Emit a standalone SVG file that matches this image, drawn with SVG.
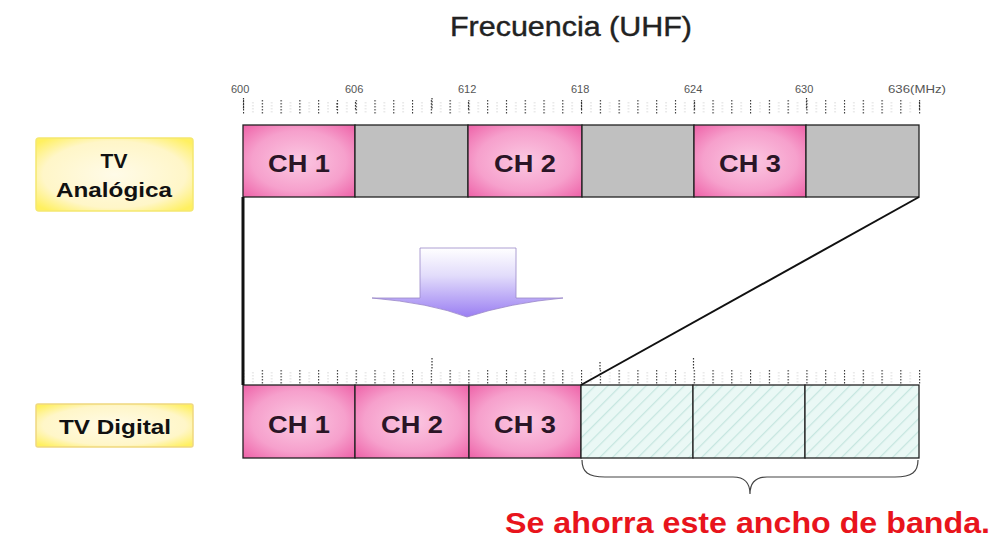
<svg xmlns="http://www.w3.org/2000/svg" width="1003" height="539" viewBox="0 0 1003 539">
<defs>
<radialGradient id="pink" cx="0.5" cy="0.5" r="0.7">
<stop offset="0" stop-color="#fbc8e2"/>
<stop offset="0.6" stop-color="#f6a0cc"/>
<stop offset="1" stop-color="#ee62a8"/>
</radialGradient>
<radialGradient id="yel" cx="0.5" cy="0.5" r="0.65">
<stop offset="0" stop-color="#fffbe8"/>
<stop offset="0.7" stop-color="#fff6c8"/>
<stop offset="1" stop-color="#fff060"/>
</radialGradient>
<linearGradient id="arr" x1="0" y1="0" x2="0" y2="1">
<stop offset="0" stop-color="#ffffff"/>
<stop offset="0.4" stop-color="#e2dcfb"/>
<stop offset="1" stop-color="#9a7ef2"/>
</linearGradient>
<pattern id="hatch" width="9" height="9" patternUnits="userSpaceOnUse" patternTransform="rotate(45)">
<rect width="9" height="9" fill="#eaf8f5"/>
<line x1="0" y1="0" x2="0" y2="9" stroke="#c6e6e0" stroke-width="2.5"/>
</pattern>
<pattern id="ticks" x="243" width="18.78" height="30" patternUnits="userSpaceOnUse">
<line x1="0.5" y1="10" x2="0.5" y2="24" stroke="#333" stroke-width="1.2" stroke-dasharray="1.5,1.5"/>
<line x1="9.9" y1="12" x2="9.9" y2="24" stroke="#d4d4d4" stroke-width="1" stroke-dasharray="1.5,1.5"/>
</pattern>
</defs>
<style>
.lbl{font-family:"Liberation Sans",Arial,sans-serif;font-size:11px;fill:#555}
.ch{font-family:"Liberation Sans",Arial,sans-serif;font-size:24px;font-weight:bold;fill:#2a1526;text-anchor:middle}
.nm{font-family:"Liberation Sans",Arial,sans-serif;font-size:21px;font-weight:bold;fill:#111;text-anchor:middle}
.cell{stroke:#222;stroke-width:1.3}
.tk{stroke:#333;stroke-width:1.2;stroke-dasharray:1.5,1.5}
</style>
<rect width="1003" height="539" fill="#ffffff"/>

<text x="450" y="36" textLength="242" lengthAdjust="spacingAndGlyphs" font-family="'Liberation Sans',Arial,sans-serif" font-size="27" fill="#222" stroke="#222" stroke-width="0.4">Frecuencia (UHF)</text>

<g id="scale-top">
<text class="lbl" x="231" y="93">600</text>
<text class="lbl" x="345" y="93">606</text>
<text class="lbl" x="458" y="93">612</text>
<text class="lbl" x="571" y="93">618</text>
<text class="lbl" x="684" y="93">624</text>
<text class="lbl" x="795" y="93">630</text>
<text class="lbl" x="888" y="93" textLength="58" lengthAdjust="spacingAndGlyphs">636(MHz)</text>
<rect x="243" y="100" width="678" height="24" fill="url(#ticks)"/>
<path class="tk" d="M243.5,98V110M355.5,102V110M468.5,102V110M581.5,102V110M694.5,102V110M806.5,98V110M919.5,102V110M337,103V110M432,98V110"/>
</g>

<g id="scale-bottom">
<rect x="243" y="360" width="678" height="24" fill="url(#ticks)"/>
<path class="tk" d="M432,358V370M693.5,358V370M600,362V370"/>
</g>

<g id="label-analog">
<rect x="36" y="138" width="157" height="73" rx="3" fill="url(#yel)" stroke="#f5e870" stroke-width="1.5"/>
<text class="nm" x="114" y="168">TV</text>
<text class="nm" x="114" y="197" textLength="116" lengthAdjust="spacingAndGlyphs">Analógica</text>
</g>
<g id="label-digital">
<rect x="36" y="404" width="157" height="43" rx="2" fill="url(#yel)" stroke="#f0d880" stroke-width="1.5"/>
<text class="nm" x="115" y="434" textLength="112" lengthAdjust="spacingAndGlyphs">TV Digital</text>
</g>

<g id="analog-band">
<rect class="cell" x="243" y="125" width="112" height="72" fill="url(#pink)"/>
<rect class="cell" x="355" y="125" width="113" height="72" fill="#c0c0c0"/>
<rect class="cell" x="468" y="125" width="114" height="72" fill="url(#pink)"/>
<rect class="cell" x="582" y="125" width="112" height="72" fill="#c0c0c0"/>
<rect class="cell" x="694" y="125" width="112" height="72" fill="url(#pink)"/>
<rect class="cell" x="806" y="125" width="113" height="72" fill="#c0c0c0"/>
<text class="ch" x="299" y="172" textLength="62" lengthAdjust="spacingAndGlyphs">CH 1</text>
<text class="ch" x="525" y="172" textLength="62" lengthAdjust="spacingAndGlyphs">CH 2</text>
<text class="ch" x="750" y="172" textLength="62" lengthAdjust="spacingAndGlyphs">CH 3</text>
</g>

<g id="digital-band">
<rect class="cell" x="243" y="385" width="112" height="73" fill="url(#pink)"/>
<rect class="cell" x="355" y="385" width="114" height="73" fill="url(#pink)"/>
<rect class="cell" x="469" y="385" width="112" height="73" fill="url(#pink)"/>
<rect class="cell" x="581" y="385" width="112" height="73" fill="url(#hatch)"/>
<rect class="cell" x="693" y="385" width="112" height="73" fill="url(#hatch)"/>
<rect class="cell" x="805" y="385" width="114" height="73" fill="url(#hatch)"/>
<text class="ch" x="299" y="433" textLength="62" lengthAdjust="spacingAndGlyphs">CH 1</text>
<text class="ch" x="412" y="433" textLength="62" lengthAdjust="spacingAndGlyphs">CH 2</text>
<text class="ch" x="525" y="433" textLength="62" lengthAdjust="spacingAndGlyphs">CH 3</text>
</g>

<g id="arrow">
<path d="M420,248 H516 V298 H563 Q510,303 467,317 Q430,303 372,298 H420 Z" fill="url(#arr)" stroke="#9a88c8" stroke-width="0.8"/>
</g>

<g id="connectors" fill="none" stroke="#111">
<line x1="243" y1="197" x2="243" y2="385" stroke-width="3"/>
<line x1="919" y1="197" x2="581" y2="385" stroke-width="2"/>
<path d="M582,460 C582,472 588,477 605,477 H733 C746,477 750,484 750,494 C750,484 754,477 767,477 H895 C912,477 918,472 918,460" stroke="#444" stroke-width="1.2"/>
</g>

<text x="505" y="533" textLength="485" lengthAdjust="spacingAndGlyphs" font-family="'Liberation Sans',Arial,sans-serif" font-size="29" font-weight="bold" fill="#e8141c">Se ahorra este ancho de banda.</text>
</svg>
